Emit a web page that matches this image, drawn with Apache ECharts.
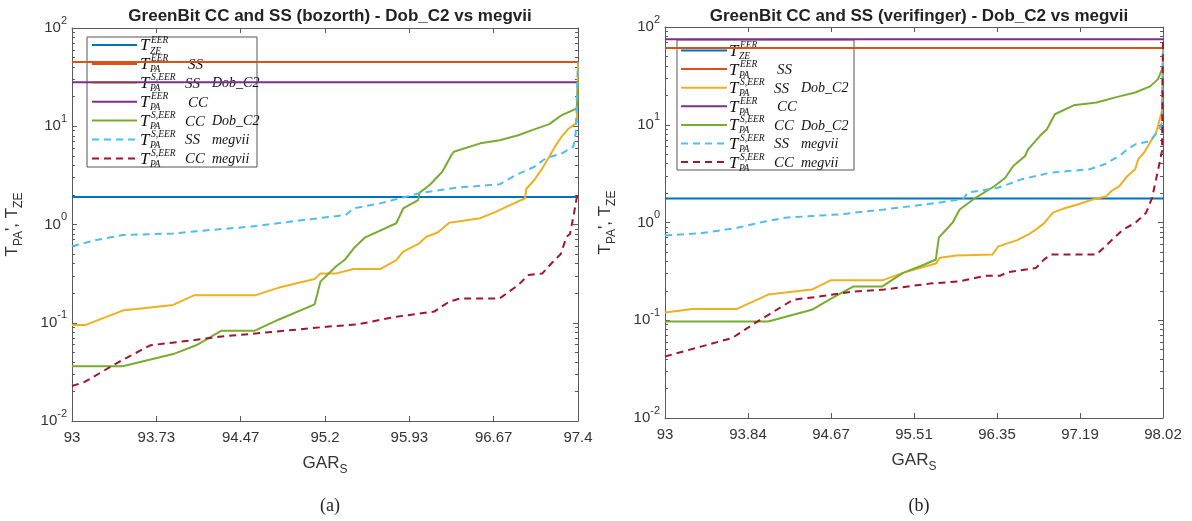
<!DOCTYPE html>
<html>
<head>
<meta charset="utf-8">
<script src="https://cdn.jsdelivr.net/npm/echarts@6/dist/echarts.min.js"></script>
<style>
  html, body { margin: 0; padding: 0; background: #fff; }
  #chart { width: 1192px; height: 521px; }
</style>
</head>
<body>
<div id="chart"></div>
<script>
// ---- data ----
const titleA = "GreenBit CC and SS (bozorth) - Dob_C2 vs megvii";
const titleB = "GreenBit CC and SS (verifinger) - Dob_C2 vs megvii";
const xTicksA = ["93", "93.73", "94.47", "95.2", "95.93", "96.67", "97.4"];
const xTicksB = ["93", "93.84", "94.67", "95.51", "96.35", "97.19", "98.02"];
const yTicks = [0.01, 0.1, 1, 10, 100];

// horizontal thresholds
const zeA = 1.9, paSSA = 45, paCCA = 28;
const zeB = 1.76, paSSB = 61, paCCB = 75;

// (a) bozorth
const ssDobA = [[93,0.095],[93.12,0.095],[93.44,0.133],[93.88,0.152],[94.06,0.19],[94.59,0.19],[94.8,0.228],[95.11,0.279],[95.16,0.318],[95.3,0.318],[95.45,0.352],[95.68,0.352],[95.82,0.435],[95.88,0.53],[96.02,0.644],[96.08,0.75],[96.18,0.83],[96.28,1.04],[96.55,1.16],[96.69,1.35],[96.78,1.52],[96.94,1.85],[96.95,2.3],[97.02,2.84],[97.09,3.73],[97.15,4.9],[97.2,6.2],[97.26,7.9],[97.32,9.5],[97.39,10.9],[97.4,45]];
const ccDobA = [[93,0.036],[93.44,0.036],[93.88,0.048],[94.08,0.059],[94.3,0.083],[94.59,0.083],[94.8,0.108],[95.11,0.154],[95.16,0.262],[95.3,0.378],[95.37,0.435],[95.45,0.573],[95.55,0.74],[95.82,1.03],[95.88,1.46],[96.01,1.77],[96.02,2.1],[96.11,2.52],[96.22,3.44],[96.3,5.1],[96.32,5.5],[96.55,6.7],[96.72,7.2],[96.88,8.1],[97.02,9.3],[97.15,10.5],[97.26,13],[97.39,15.2],[97.4,28]];
const ssMegA = [[93,0.6],[93.21,0.695],[93.44,0.78],[93.88,0.81],[94.21,0.88],[94.55,0.95],[95.01,1.11],[95.38,1.25],[95.45,1.46],[95.68,1.64],[95.85,1.85],[96.02,2.08],[96.35,2.37],[96.72,2.57],[96.86,3.19],[97.02,3.87],[97.12,4.72],[97.26,5.3],[97.36,6.2],[97.38,8.5],[97.4,45]];
const ccMegA = [[93,0.0227],[93.11,0.025],[93.41,0.04],[93.68,0.059],[94.08,0.067],[94.28,0.072],[94.61,0.078],[95.21,0.091],[95.48,0.096],[95.68,0.107],[95.82,0.115],[96.15,0.13],[96.28,0.164],[96.38,0.177],[96.72,0.177],[96.88,0.242],[96.97,0.306],[97.09,0.318],[97.17,0.403],[97.25,0.5],[97.3,0.75],[97.33,0.8],[97.36,1.2],[97.39,1.9],[97.4,2.2]];

// (b) verifinger
const ssDobB = [[93,0.12],[93.28,0.13],[93.72,0.13],[94.04,0.183],[94.48,0.206],[94.67,0.256],[95.19,0.256],[95.4,0.305],[95.73,0.38],[95.77,0.435],[95.94,0.459],[96.3,0.47],[96.36,0.57],[96.55,0.66],[96.66,0.75],[96.74,0.85],[96.82,0.98],[96.91,1.26],[97.01,1.38],[97.16,1.53],[97.31,1.72],[97.45,1.86],[97.5,2.1],[97.58,2.35],[97.66,2.98],[97.74,3.5],[97.77,4.43],[97.83,5.2],[97.89,6.6],[97.95,8.3],[98.01,13.9],[98.02,61]];
const ccDobB = [[93,0.097],[94.04,0.097],[94.48,0.128],[94.67,0.165],[94.9,0.222],[95.19,0.222],[95.4,0.305],[95.61,0.37],[95.73,0.418],[95.76,0.7],[95.9,1.0],[95.97,1.36],[96.13,1.79],[96.32,2.35],[96.43,2.87],[96.51,3.78],[96.63,4.79],[96.66,5.6],[96.78,7.7],[96.85,9.0],[96.93,12.8],[97.12,15.8],[97.35,16.9],[97.58,19.5],[97.74,21.4],[97.89,24.7],[97.97,29.3],[98.02,39]];
const ssMegB = [[93,0.735],[93.37,0.78],[93.72,0.88],[94.02,1.03],[94.21,1.12],[94.75,1.21],[95.21,1.36],[95.75,1.59],[96.01,1.75],[96.05,2.02],[96.36,2.27],[96.59,2.76],[96.89,3.24],[97.28,3.5],[97.43,3.94],[97.58,4.79],[97.66,5.6],[97.74,6.3],[97.89,6.8],[97.97,8.6],[98.01,10.5],[98.02,61]];
const ccMegB = [[93,0.0426],[93.37,0.054],[93.68,0.066],[93.91,0.094],[94.29,0.162],[94.52,0.173],[94.9,0.197],[95.21,0.206],[95.67,0.237],[95.97,0.25],[96.24,0.286],[96.38,0.286],[96.45,0.309],[96.74,0.343],[96.82,0.417],[96.89,0.47],[97.35,0.47],[97.51,0.67],[97.62,0.85],[97.74,0.99],[97.85,1.26],[97.91,1.79],[97.95,2.76],[98.01,5.4],[98.02,75]];

// legend entries
const legendSup = ["EER", "EER", "S,EER", "EER", "S,EER", "S,EER", "S,EER"];
const legendSub = ["ZE", "PA", "PA", "PA", "PA", "PA", "PA"];
const legendTail1 = ["", "SS", "SS", "CC", "CC", "SS", "CC"];
const legendTail2 = ["", "", "Dob_C2", "", "Dob_C2", "megvii", "megvii"];

const colors = ["#0072BD", "#D95319", "#EDB120", "#7E2F8E", "#77AC30", "#4DBEEE", "#A2142F"];
const dashed = [false, false, false, false, false, true, true];

const axisColor = "#5a5a5a";
const textColor = "#333";
const sans = "Liberation Sans";
const serif = "Liberation Serif";

// ---- axes ----
function tickVals(labels, lo, hi) {
  return labels.map((_, i) => lo + (i * (hi - lo)) / (labels.length - 1));
}

function xAxes(gi, labels, lo, hi) {
  const vals = tickVals(labels, lo, hi);
  const base = {
    type: "value", gridIndex: gi, min: lo, max: hi,
    splitLine: { show: false },
    axisLine: { show: true, lineStyle: { color: axisColor, width: 1 } },
    axisTick: { show: true, inside: true, length: 5, customValues: vals, lineStyle: { color: axisColor } }
  };
  return [
    Object.assign({}, base, {
      position: "bottom",
      name: "{m|GAR}{s|S}",
      nameLocation: "middle",
      nameGap: 34,
      nameTextStyle: {
        rich: {
          m: { fontFamily: sans, fontSize: 17, color: textColor, lineHeight: 17, verticalAlign: "top" },
          s: { fontFamily: sans, fontSize: 12, color: textColor, lineHeight: 30 }
        }
      },
      axisLabel: {
        show: true, margin: 9, customValues: vals,
        fontFamily: sans, fontSize: 15, color: textColor,
        formatter: (v) => {
          let best = 0;
          vals.forEach((t, i) => { if (Math.abs(t - v) < Math.abs(vals[best] - v)) best = i; });
          return labels[best];
        }
      }
    }),
    Object.assign({}, base, { position: "top", axisLabel: { show: false } })
  ];
}

function minorVals() {
  const out = [];
  for (let e = -2; e < 2; e++) for (let k = 2; k <= 9; k++) out.push(k * Math.pow(10, e));
  return out;
}

function yAxes(gi) {
  const base = {
    type: "log", logBase: 10, gridIndex: gi, min: 0.01, max: 100,
    splitLine: { show: false }, minorTick: { show: false }
  };
  const mainTick = { show: true, inside: true, length: 5, customValues: yTicks, lineStyle: { color: axisColor } };
  const minorTick = { show: true, inside: true, length: 3, customValues: minorVals(), lineStyle: { color: axisColor } };
  return [
    Object.assign({}, base, {
      position: "left",
      axisLine: { show: true, lineStyle: { color: axisColor } },
      axisTick: mainTick,
      name: "{t|T}{s|PA}{t|', T}{s|ZE}",
      nameLocation: "middle",
      nameGap: 38,
      nameTextStyle: {
        rich: {
          t: { fontFamily: sans, fontSize: 17, color: textColor, lineHeight: 17, verticalAlign: "top" },
          s: { fontFamily: sans, fontSize: 12, color: textColor, lineHeight: 30 }
        }
      },
      axisLabel: {
        show: true, margin: 5, customValues: yTicks,
        formatter: (v) => "{b|10}{s|" + Math.round(Math.log10(v)) + "}",
        rich: {
          b: { fontFamily: sans, fontSize: 15, color: textColor, lineHeight: 26 },
          s: { fontFamily: sans, fontSize: 11, color: textColor, lineHeight: 11, verticalAlign: "top" }
        }
      }
    }),
    Object.assign({}, base, { position: "left", axisLine: { show: false }, axisTick: minorTick, axisLabel: { show: false } }),
    Object.assign({}, base, { position: "right", axisLine: { show: true, lineStyle: { color: axisColor } }, axisTick: mainTick, axisLabel: { show: false } }),
    Object.assign({}, base, { position: "right", axisLine: { show: false }, axisTick: minorTick, axisLabel: { show: false } })
  ];
}

// ---- series ----
function mk(name, data, idx, gi) {
  return {
    name: name, type: "line", data: data,
    xAxisIndex: gi * 2, yAxisIndex: gi * 4,
    showSymbol: false, symbol: "none", animation: false, silent: true,
    lineStyle: { color: colors[idx], width: 2, type: dashed[idx] ? [7, 5] : "solid" },
    itemStyle: { color: colors[idx] }
  };
}

function panelSeries(gi, lo, hi, ze, paSS, paCC, ssDob, ccDob, ssMeg, ccMeg) {
  return [
    mk("ZE EER", [[lo, ze], [hi, ze]], 0, gi),
    mk("PA EER SS", [[lo, paSS], [hi, paSS]], 1, gi),
    mk("PA S,EER SS Dob_C2", ssDob, 2, gi),
    mk("PA EER CC", [[lo, paCC], [hi, paCC]], 3, gi),
    mk("PA S,EER CC Dob_C2", ccDob, 4, gi),
    mk("PA S,EER SS megvii", ssMeg, 5, gi),
    mk("PA S,EER CC megvii", ccMeg, 6, gi)
  ];
}

// ---- legend drawn as graphic ----
function legendGfx(bx, by, bw, bh, lx0, lx1, tx, row0, gap) {
  const els = [{
    type: "rect", shape: { x: bx, y: by, width: bw, height: bh },
    style: { fill: "#fff", stroke: "#555", lineWidth: 1 }
  }];
  const f = (px) => "italic " + px + "px '" + serif + "'";
  legendSup.forEach((sup, i) => {
    const y = row0 + i * gap;
    els.push({
      type: "line", shape: { x1: lx0, y1: y, x2: lx1, y2: y },
      style: { stroke: colors[i], lineWidth: 2, lineDash: dashed[i] ? [7, 5] : null }
    });
    els.push({ type: "text", x: tx, y: y + 1, style: { text: "T", fill: "#111", font: f(17), verticalAlign: "middle" } });
    els.push({ type: "text", x: tx + 11, y: y - 5, style: { text: sup, fill: "#111", font: f(9.5), verticalAlign: "middle" } });
    els.push({ type: "text", x: tx + 10, y: y + 6, style: { text: legendSub[i], fill: "#111", font: f(9.5), verticalAlign: "middle" } });
    if (legendTail1[i]) {
      els.push({ type: "text", x: tx + (sup === "EER" ? 48 : 45), y: y + 1, style: { text: legendTail1[i], fill: "#111", font: f(15), verticalAlign: "middle" } });
    }
    if (legendTail2[i]) {
      els.push({ type: "text", x: tx + 72, y: y + 1, style: { text: legendTail2[i], fill: "#111", font: f(14), verticalAlign: "middle" } });
    }
  });
  return { type: "group", z: 100, children: els };
}

const chart = echarts.init(document.getElementById("chart"), null, { renderer: "canvas" });

const titleStyle = { fontFamily: sans, fontSize: 17, fontWeight: "bold", color: "#222" };
const capStyle = { fontFamily: serif, fontSize: 18, fontWeight: "normal", color: "#222" };

const option = {
  backgroundColor: "#fff",
  animation: false,
  title: [
    { text: titleA, left: 325, top: 3, textAlign: "center", textStyle: titleStyle },
    { text: titleB, left: 914, top: 3, textAlign: "center", textStyle: titleStyle },
    { text: "(a)", left: 325, top: 492, textAlign: "center", textStyle: capStyle },
    { text: "(b)", left: 914, top: 492, textAlign: "center", textStyle: capStyle }
  ],
  grid: [
    { left: 72, top: 28, width: 506, height: 393 },
    { left: 665, top: 27, width: 498, height: 391 }
  ],
  xAxis: [].concat(xAxes(0, xTicksA, 93, 97.4), xAxes(1, xTicksB, 93, 98.02)),
  yAxis: [].concat(yAxes(0), yAxes(1)),
  series: [].concat(
    panelSeries(0, 93, 97.4, zeA, paSSA, paCCA, ssDobA, ccDobA, ssMegA, ccMegA),
    panelSeries(1, 93, 98.02, zeB, paSSB, paCCB, ssDobB, ccDobB, ssMegB, ccMegB)
  ),
  graphic: [
    legendGfx(87, 37, 170, 130, 92, 137, 140, 45, 18.9),
    legendGfx(677, 40, 177, 130, 681, 727, 729, 50.5, 18.6)
  ]
};

chart.setOption(option);
</script>
</body>
</html>
